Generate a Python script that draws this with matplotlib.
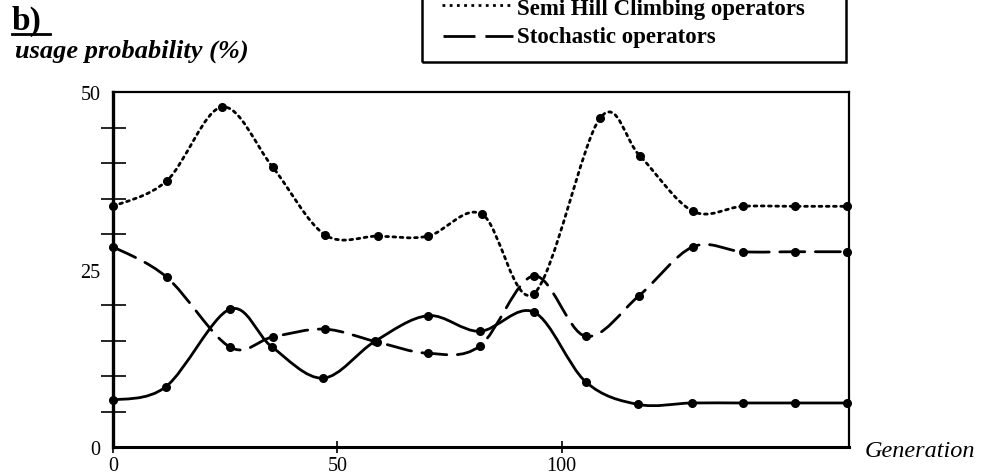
import matplotlib
matplotlib.use("Agg")
import matplotlib.pyplot as plt
from matplotlib.path import Path
from matplotlib.patches import PathPatch, Rectangle
from matplotlib.lines import Line2D
import numpy as np

# ---- data ----
hc_x = [0, 11.8, 26, 35.4, 46.8, 58.4, 70.2, 81.7, 93.8, 105.3, 117, 129, 140.3, 152, 163.5]
hc_y = [6.6, 8.5, 19.4, 14.1, 9.7, 14.9, 18.5, 16.3, 19.0, 9.2, 6.0, 6.2, 6.2, 6.2, 6.2]

semi_x = [0, 12, 24.3, 35.6, 47.2, 59, 70.2, 82.2, 93.8, 108.5, 117.4, 129.2, 140.3, 152, 163.5]
semi_y = [33.9, 37.5, 47.9, 39.4, 29.9, 29.7, 29.7, 32.8, 21.6, 46.3, 41.0, 33.2, 33.9, 33.9, 33.9]

sto_x = [0, 12, 26, 35.6, 47.2, 58.8, 70.2, 81.7, 93.8, 105.3, 117.2, 129.2, 140.3, 152, 163.5]
sto_y = [28.2, 23.9, 14.1, 15.5, 16.6, 14.8, 13.2, 14.2, 24.1, 15.6, 21.3, 28.2, 27.5, 27.5, 27.5]

x_ticks = [0, 50, 100]
y_ticks = [0, 25, 50]
legend_labels = ["Semi Hill Climbing operators", "Stochastic operators"]

SERIF = ["Liberation Serif", "DejaVu Serif"]

fig = plt.figure(figsize=(9.94, 4.77), dpi=100)
fig.patch.set_facecolor("white")
ax = fig.add_axes([113/994, 29/477, 736/994, 355/477])
ax.set_xlim(0, 164)
ax.set_ylim(0, 50)


def smooth_path(xs, ys):
    """Bezier (Catmull-Rom style) path through the data points, like a smoothed line."""
    P = np.column_stack([xs, ys]).astype(float)
    n = len(P)
    verts = [P[0]]
    codes = [Path.MOVETO]
    for i in range(n - 1):
        p0 = P[i - 1] if i > 0 else P[i]
        p1 = P[i]
        p2 = P[i + 1]
        p3 = P[i + 2] if i + 2 < n else P[i + 1]
        c1 = p1 + (p2 - p0) / 6.0
        c2 = p2 - (p3 - p1) / 6.0
        verts += [c1, c2, p2]
        codes += [Path.CURVE4] * 3
    return Path(verts, codes)


styles = [
    (hc_x, hc_y, "-"),
    (semi_x, semi_y, (0, (1.0, 1.6))),
    (sto_x, sto_y, (0, (9, 3.8))),
]
for xs, ys, ls in styles:
    patch = PathPatch(smooth_path(xs, ys), fill=False, edgecolor="black",
                      linewidth=2.0, linestyle=ls, transform=ax.transData,
                      capstyle="round", clip_on=False)
    ax.add_patch(patch)
    ax.plot(xs, ys, linestyle="none", marker="o", markersize=5.5,
            color="black", clip_on=False, zorder=5)

# spines
ax.spines["left"].set_linewidth(2.4)
ax.spines["bottom"].set_linewidth(2.2)
ax.spines["top"].set_linewidth(1.6)
ax.spines["right"].set_linewidth(1.6)

# ticks
ax.set_xticks(x_ticks)
ax.set_xticklabels([str(v) for v in x_ticks], fontfamily=SERIF, fontsize=14.5)
ax.tick_params(axis="x", which="major", direction="inout", length=9, width=1.2, pad=2)

ax.set_yticks(y_ticks)
ax.set_yticklabels([str(v) for v in y_ticks], fontfamily=SERIF, fontsize=14.5)
ax.tick_params(axis="y", which="major", length=0, pad=9)
ax.set_yticks([0, 5, 10, 15, 20, 30, 35, 40, 45, 50], minor=True)
ax.tick_params(axis="y", which="minor", direction="inout", length=18, width=1.2)

# texts
fig.text(12/994, 1 - 21/477, "b)", fontfamily=SERIF, fontweight="bold",
         fontsize=24, va="center", ha="left")
fig.add_artist(Line2D([12/994, 50/994], [1 - 35/477, 1 - 35/477],
                      transform=fig.transFigure, color="black", linewidth=2.0))
fig.text(15/994, 1 - 51/477, "usage probability (%)", fontfamily=SERIF,
         fontweight="bold", fontstyle="italic", fontsize=19, va="center", ha="left")
fig.text(865/994, 1 - 452/477, "Generation", fontfamily=SERIF,
         fontstyle="italic", fontsize=17.5, va="center", ha="left")

# legend box (top part cut off by the figure edge, as in the reference)
fig.add_artist(Rectangle((422/994, 1 - 63/477), (846 - 422)/994, 80/477,
                         transform=fig.transFigure, fill=False,
                         edgecolor="black", linewidth=1.8))
fig.add_artist(Line2D([442/994, 514/994], [1 - 6/477, 1 - 6/477],
                      transform=fig.transFigure, color="black", linewidth=2.0,
                      linestyle=(0, (1.0, 1.6))))
fig.add_artist(Line2D([443/994, 513/994], [1 - 37/477, 1 - 37/477],
                      transform=fig.transFigure, color="black", linewidth=2.0,
                      linestyle=(0, (11.5, 3.6))))
fig.text(517/994, 1 - 9/477, legend_labels[0], fontfamily=SERIF, fontweight="bold",
         fontsize=16.5, va="center", ha="left")
fig.text(517/994, 1 - 38/477, legend_labels[1], fontfamily=SERIF, fontweight="bold",
         fontsize=16.5, va="center", ha="left")

fig.savefig("out.png", dpi=100, facecolor="white")
